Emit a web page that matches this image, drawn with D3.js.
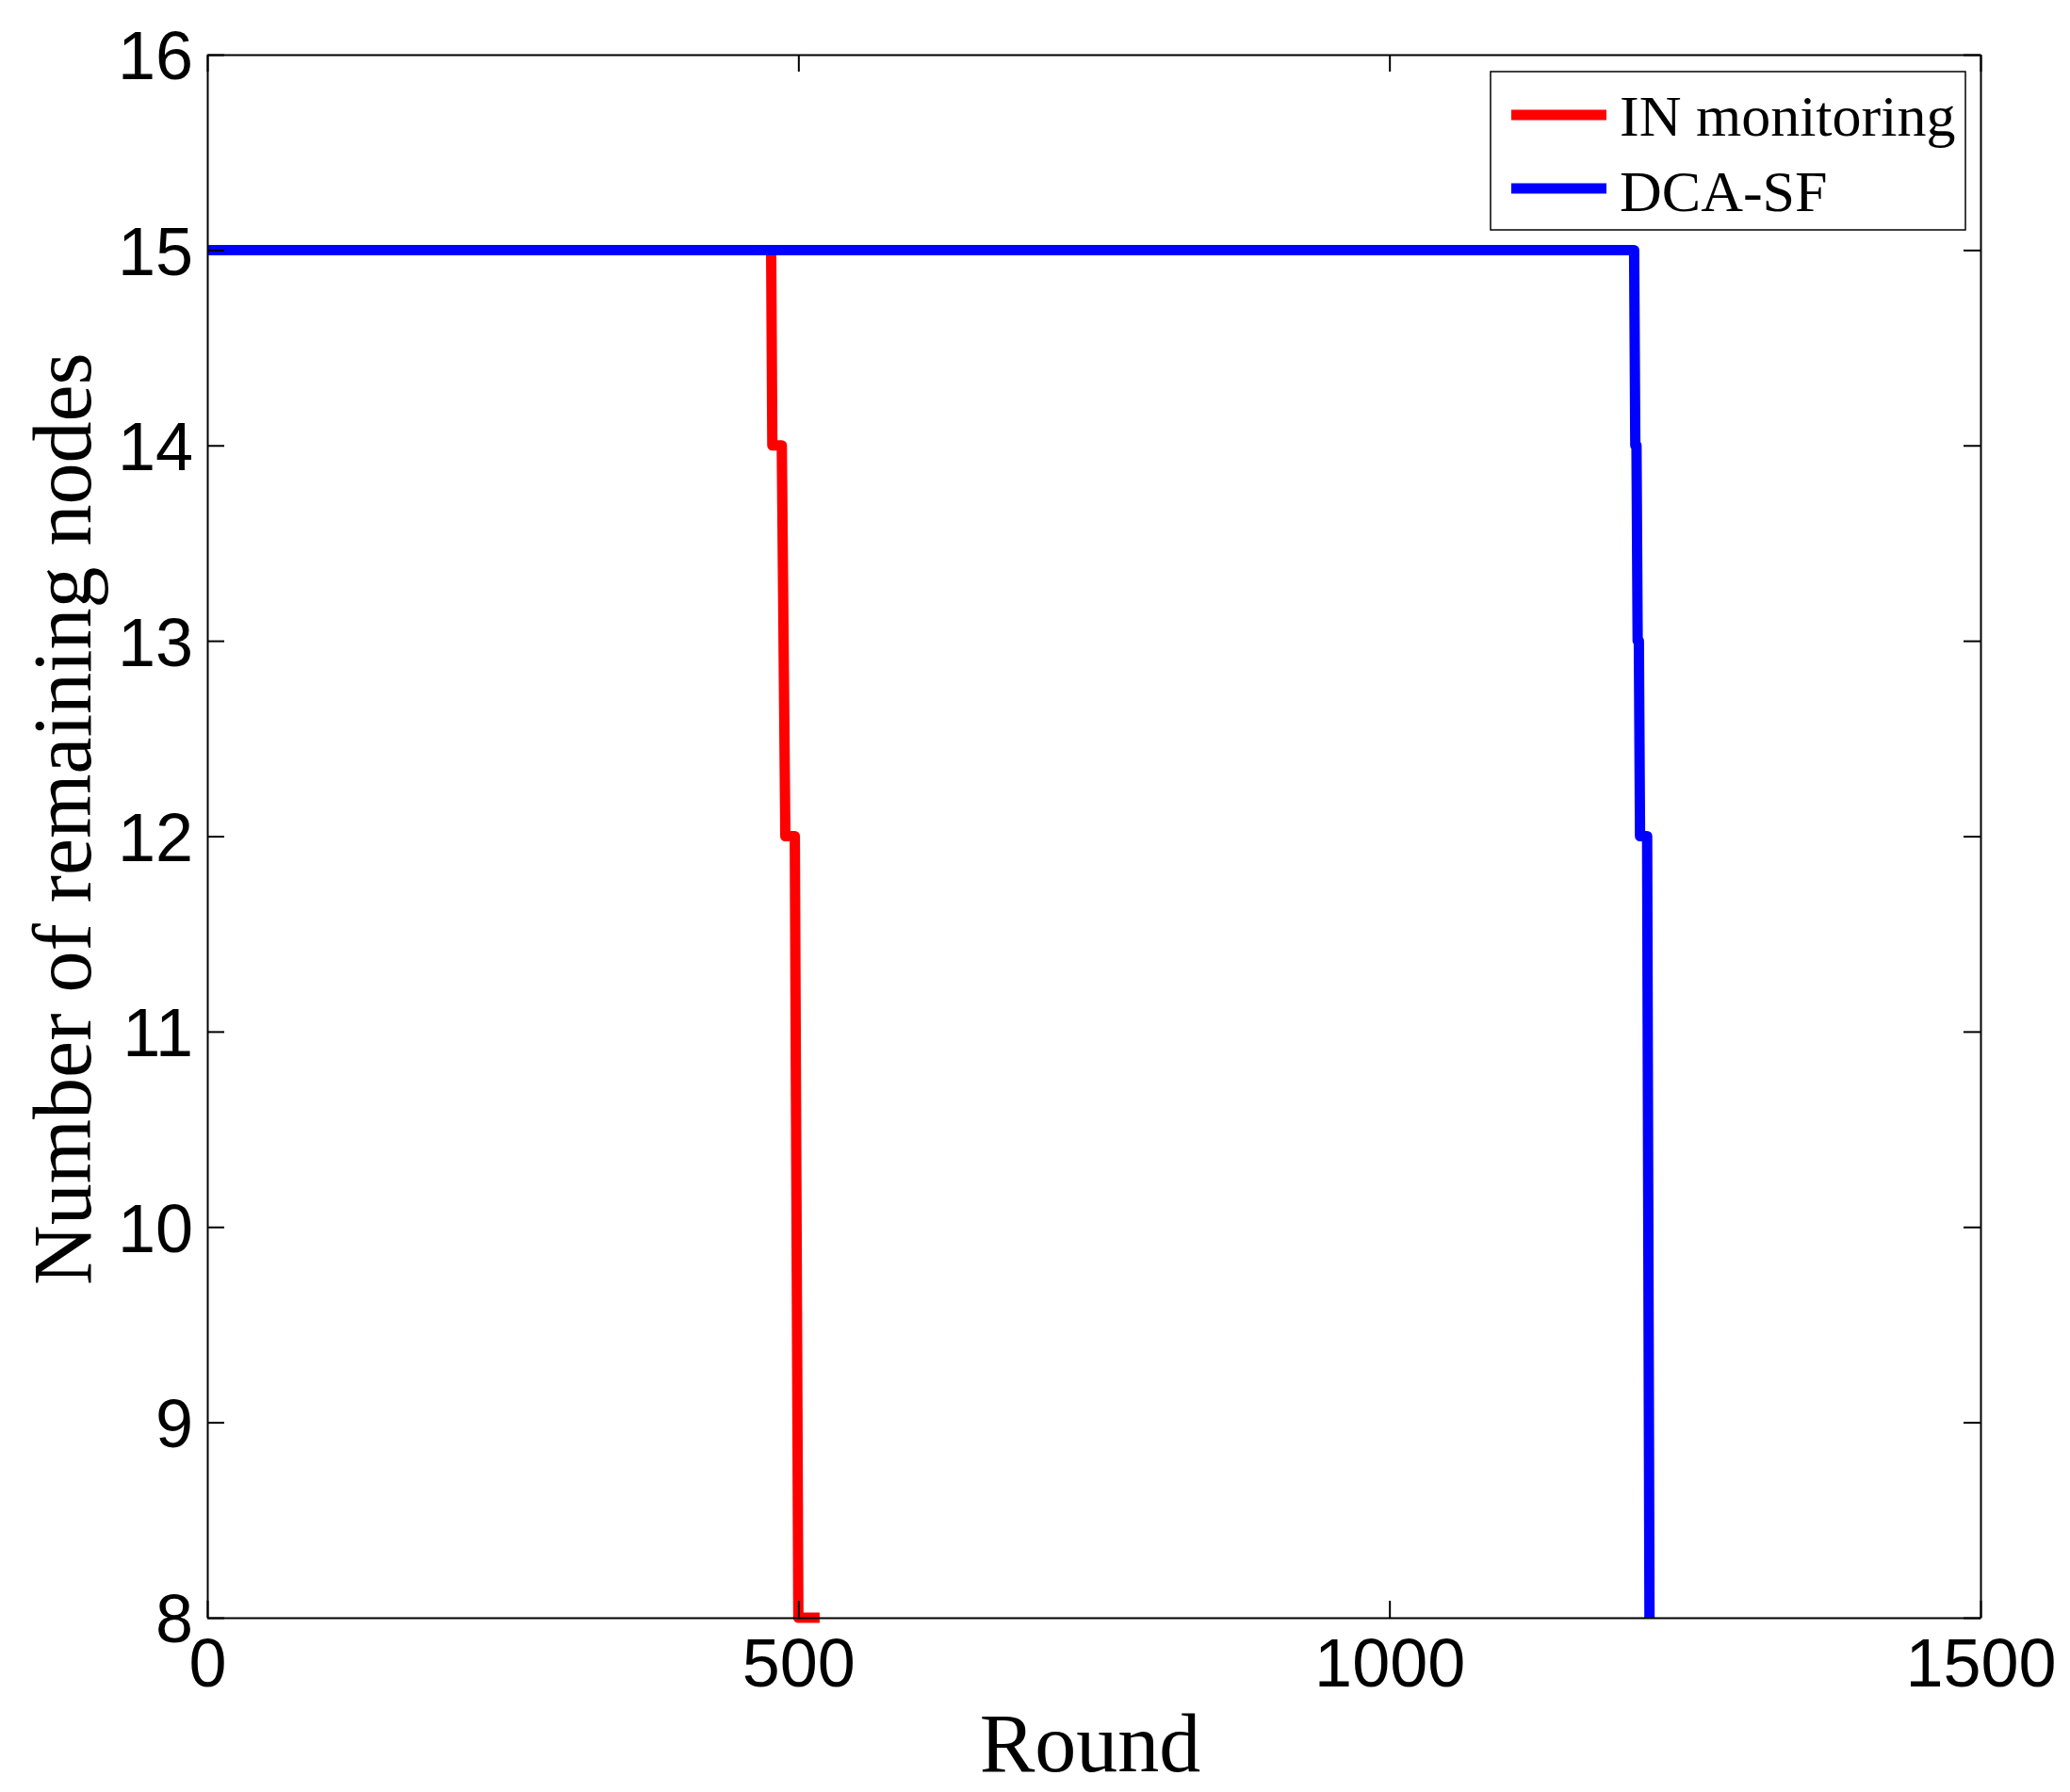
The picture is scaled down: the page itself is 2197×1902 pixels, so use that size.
<!DOCTYPE html>
<html>
<head>
<meta charset="utf-8">
<script src="https://cdn.jsdelivr.net/npm/d3@7"></script>
<style>
  body { margin: 0; background: #fff; }
  .tick text { font-family: "Liberation Sans", Arial, sans-serif; }
</style>
</head>
<body>
<script>
// ---------------------------------- data ----------------------------------
const inRounds = [0, 477, 478, 486, 489, 497, 500, 518];
const inNodes = [15, 15, 14, 14, 12, 12, 8, 8];

const dcaRounds = [0, 1207, 1208, 1209, 1210, 1211, 1212, 1218, 1220];
const dcaNodes = [15, 15, 14, 14, 13, 13, 12, 12, 8];

const xTicks = [0, 500, 1000, 1500];
const yTicks = [8, 9, 10, 11, 12, 13, 14, 15, 16];

const seriesNames = ["IN monitoring", "DCA-SF"];
const seriesColors = ["#ff0000", "#0000ff"];

// ---------------------------------- layout --------------------------------
const width = 2197,
    height = 1902,
    plotLeft = 220,
    plotRight = 2102,
    plotTop = 58,
    plotBottom = 1717,
    tickLen = 18;

const xScale = d3.scaleLinear().domain([0, 1500]).range([plotLeft, plotRight]);
const yScale = d3.scaleLinear().domain([8, 16]).range([plotBottom, plotTop]);

const svg = d3.select("body").append("svg")
    .attr("width", width)
    .attr("height", height)
    .style("background", "#fff");

// ---------------------------------- lines ---------------------------------
const line = d3.line()
    .x(d => xScale(d[0]))
    .y(d => yScale(d[1]));

const series = [
  d3.zip(inRounds, inNodes),
  d3.zip(dcaRounds, dcaNodes)
];

series.forEach(function (pts, i) {
  svg.append("path")
    .attr("d", line(pts))
    .attr("fill", "none")
    .attr("stroke", seriesColors[i])
    .attr("stroke-width", 11)
    .attr("stroke-linejoin", "round")
    .attr("stroke-linecap", "butt");
});

// ---------------------------------- axes ----------------------------------
function styleAxis(g) {
  g.select(".domain").attr("stroke", "#000").attr("stroke-width", 2);
  g.selectAll(".tick line").attr("stroke", "#000").attr("stroke-width", 2);
  g.selectAll(".tick text").attr("fill", "#000").attr("font-size", 72);
}

svg.append("g")
  .attr("transform", `translate(0,${plotBottom})`)
  .call(d3.axisBottom(xScale).tickValues(xTicks).tickFormat(d3.format("d"))
    .tickSizeInner(-tickLen).tickSizeOuter(0))
  .call(styleAxis)
  .call(g => g.selectAll(".tick text").attr("y", 73).attr("dy", null));

svg.append("g")
  .attr("transform", `translate(0,${plotTop})`)
  .call(d3.axisTop(xScale).tickValues(xTicks).tickSizeInner(-tickLen).tickSizeOuter(0).tickFormat(""))
  .call(styleAxis);

svg.append("g")
  .attr("transform", `translate(${plotLeft},0)`)
  .call(d3.axisLeft(yScale).tickValues(yTicks).tickFormat(d3.format("d"))
    .tickSizeInner(-tickLen).tickSizeOuter(0))
  .call(styleAxis)
  .call(g => g.selectAll(".tick text").attr("x", -15).attr("dy", "0.36em"));

svg.append("g")
  .attr("transform", `translate(${plotRight},0)`)
  .call(d3.axisRight(yScale).tickValues(yTicks).tickSizeInner(-tickLen).tickSizeOuter(0).tickFormat(""))
  .call(styleAxis);

// ---------------------------------- labels --------------------------------
svg.append("text")
  .attr("x", (plotLeft + plotRight) / 2 - 4)
  .attr("y", 1880)
  .attr("text-anchor", "middle")
  .attr("font-family", "'Liberation Serif', 'Times New Roman', serif")
  .attr("font-size", 88)
  .text("Round");

svg.append("text")
  .attr("transform", "translate(96,869) rotate(-90)")
  .attr("text-anchor", "middle")
  .attr("font-family", "'Liberation Serif', 'Times New Roman', serif")
  .attr("font-size", 88)
  .text("Number of remaining nodes");

// ---------------------------------- legend --------------------------------
const legend = svg.append("g");
legend.append("rect")
  .attr("x", 1582).attr("y", 76)
  .attr("width", 504).attr("height", 168)
  .attr("fill", "#fff")
  .attr("stroke", "#000")
  .attr("stroke-width", 1.5);

seriesNames.forEach(function (name, i) {
  const ly = 122 + i * 78;
  legend.append("line")
    .attr("x1", 1604).attr("x2", 1705)
    .attr("y1", ly).attr("y2", ly)
    .attr("stroke", seriesColors[i])
    .attr("stroke-width", 11);
  legend.append("text")
    .attr("x", 1719)
    .attr("y", 144 + i * 80)
    .attr("font-family", "'Liberation Serif', 'Times New Roman', serif")
    .attr("font-size", 62)
    .text(name);
});
</script>
</body>
</html>
